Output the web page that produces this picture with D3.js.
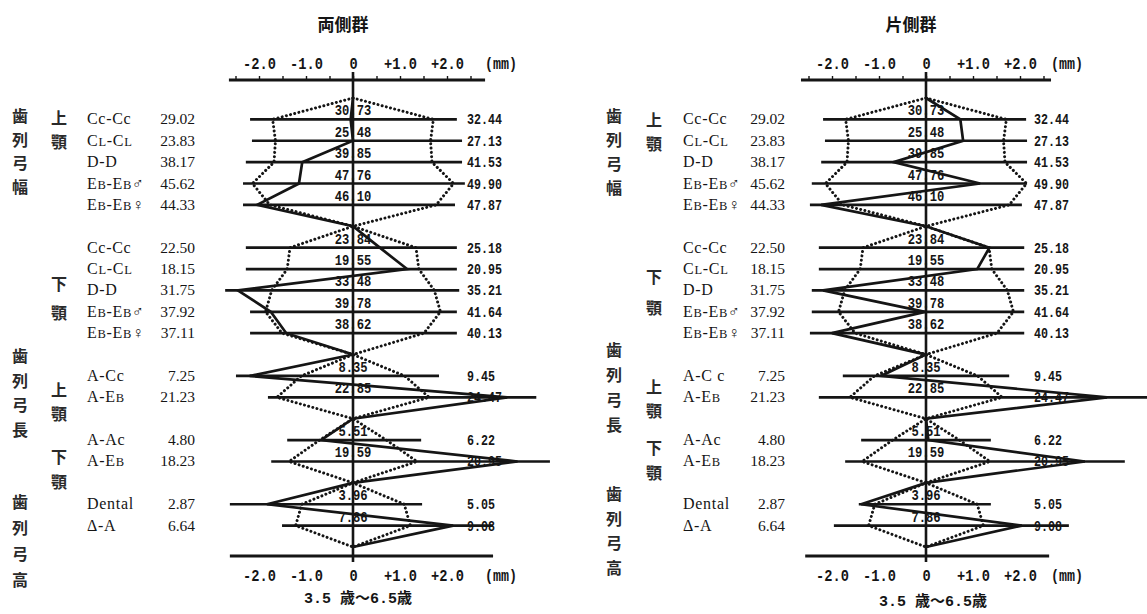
<!DOCTYPE html>
<html>
<head>
<meta charset="utf-8">
<script src="https://cdn.jsdelivr.net/npm/d3@7"></script>
<style>
  body { margin: 0; background: #fff; }
</style>
</head>
<body>
<svg id="chart" width="1147" height="614"></svg>
<script>
// row labels, {x} = smaller letter
const rowLabels = ["Cc-Cc", "C{L}-C{L}", "D-D", "E{B}-E{B}♂", "E{B}-E{B}♀",
                   "Cc-Cc", "C{L}-C{L}", "D-D", "E{B}-E{B}♂", "E{B}-E{B}♀",
                   "A-Cc", "A-E{B}", "A-Ac", "A-E{B}", "Dental", "Δ-A"];
const rowLabelsRight = rowLabels.map((d, i) => i === 10 ? "A-C c" : d);
const groupSizes = [5, 5, 2, 2, 2];

// standard values (mm): mean - SD, mean, mean + SD
const lowValues  = [29.02, 23.83, 38.17, 45.62, 44.33, 22.50, 18.15, 31.75, 37.92, 37.11, 7.25, 21.23, 4.80, 18.23, 2.87, 6.64];
const meanValues = [30.73, 25.48, 39.85, 47.76, 46.10, 23.84, 19.55, 33.48, 39.78, 38.62, 8.35, 22.85, 5.51, 19.59, 3.96, 7.86];
const highValues = [32.44, 27.13, 41.53, 49.90, 47.87, 25.18, 20.95, 35.21, 41.64, 40.13, 9.45, 24.47, 6.22, 20.95, 5.05, 9.08];

// group deviation from standard (mm)
const devBilateral  = [-0.05, 0.0, -1.08, -1.15, -2.04, 0.57, 1.15, -2.45, -1.75, -1.42, -2.2, 3.28, -0.68, 3.5, -1.83, 2.13];
const devUnilateral = [0.73, 0.79, -0.69, 1.15, -2.23, 1.35, 1.09, -2.19, -0.02, -2.0, -0.96, 3.85, 0.05, 3.38, -1.38, 2.04];

// extent of each row's reference line (mm)
const barLoBilateral  = [-2.19, -2.15, -2.28, -2.34, -2.34, -2.28, -2.28, -2.72, -2.19, -2.19, -2.49, -1.81, -1.4, -1.74, -2.62, -1.51];
const barHiBilateral  = [2.21, 2.32, 2.32, 2.38, 2.17, 2.21, 2.21, 2.26, 2.21, 2.21, 1.83, 3.9, 1.45, 4.19, 1.47, 2.98];
const barLoUnilateral = [-2.19, -2.15, -2.23, -2.43, -2.47, -2.28, -2.28, -2.43, -2.43, -2.47, -1.77, -2.28, -1.38, -1.72, -1.43, -1.96];
const barHiUnilateral = [2.13, 2.15, 2.15, 2.15, 2.04, 2.09, 2.09, 2.09, 2.09, 2.09, 1.77, 4.74, 1.38, 4.23, 1.38, 3.04];

const tickValues = [-2, -1, 0, 1, 2];
const tickLabels = ["-2.0", "-1.0", "0", "+1.0", "+2.0"];
const titles = ["両側群", "片側群"];
const subtitles = ["3.5 歳～6.5歳", "3.5  歳～6.5歳"];

const sideLeft = [
  { t: "歯列弓幅", col: 0, y0: 115, step: 23.5 },
  { t: "上顎", col: 1, y0: 117, step: 24 },
  { t: "下顎", col: 1, y0: 283, step: 29 },
  { t: "歯列弓長", col: 0, y0: 355, step: 24.5 },
  { t: "上顎", col: 1, y0: 389, step: 24 },
  { t: "下顎", col: 1, y0: 456, step: 25 },
  { t: "歯列弓高", col: 0, y0: 501, step: 26 }
];
const sideRight = [
  { t: "歯列弓幅", col: 0, y0: 115, step: 24 },
  { t: "上顎", col: 1, y0: 119, step: 24 },
  { t: "下顎", col: 1, y0: 276, step: 31 },
  { t: "歯列弓長", col: 0, y0: 349, step: 25 },
  { t: "上顎", col: 1, y0: 386, step: 24 },
  { t: "下顎", col: 1, y0: 447, step: 25 },
  { t: "歯列弓高", col: 0, y0: 493, step: 24.5 }
];

const INK = "#151515";
const PX_PER_MM = 47;
const monoFont = "'Liberation Mono', 'DejaVu Sans Mono', monospace";
const serifFont = "'Liberation Serif', 'DejaVu Serif', serif";
const cjkFont = "'Noto Sans CJK JP', 'Noto Sans CJK SC', sans-serif";

const panels = [
  { title: titles[0], sub: subtitles[0], labels: rowLabels, dev: devBilateral, lo: barLoBilateral, hi: barHiBilateral,
    cx: 353, titleX: 343, labelX: 87, valX: 195, col0: 20, col1: 59, rvX: 467,
    topAxis: [-2.64, 2.81], bottomAxis: [-2.62, 2.98], mmDx: 148, subX: 358, subY: 603, side: sideLeft },
  { title: titles[1], sub: subtitles[1], labels: rowLabelsRight, dev: devUnilateral, lo: barLoUnilateral, hi: barHiUnilateral,
    cx: 926, titleX: 911, labelX: 683, valX: 785, col0: 614, col1: 654, rvX: 1034,
    topAxis: [-2.66, 2.66], bottomAxis: [-2.57, 2.62], mmDx: 141, subX: 933, subY: 606, side: sideRight }
];

// slots: junction, rows of group, junction, ...
const slots = [{ j: true }];
let r = 0;
groupSizes.forEach(n => {
  for (let k = 0; k < n; k++) slots.push({ j: false, i: r++ });
  slots.push({ j: true });
});

const y = d3.scalePoint().domain(d3.range(slots.length)).range([98, 547]);

const svg = d3.select("#chart");
svg.append("rect").attr("width", 1147).attr("height", 614).attr("fill", "#fff");

function monoText(g, txt, x, yy, size, charW, anchor) {
  return g.append("text")
    .attr("x", x).attr("y", yy)
    .attr("font-family", monoFont).attr("font-weight", "bold")
    .attr("font-size", size).attr("fill", INK)
    .attr("text-anchor", anchor || "start")
    .attr("textLength", txt.length * charW)
    .attr("lengthAdjust", "spacingAndGlyphs")
    .text(txt);
}

panels.forEach(p => {
  const x = d3.scaleLinear().domain([-1, 1]).range([p.cx - PX_PER_MM, p.cx + PX_PER_MM]);
  const g = svg.append("g");

  // title
  g.append("text").attr("x", p.titleX).attr("y", 31)
    .attr("text-anchor", "middle").attr("font-family", cjkFont).attr("font-weight", "bold")
    .attr("font-size", 17).attr("fill", INK).text(p.title);

  // top axis line + minor ticks
  g.append("line").attr("x1", x(p.topAxis[0])).attr("x2", x(p.topAxis[1]))
    .attr("y1", 80).attr("y2", 80).attr("stroke", INK).attr("stroke-width", 2.8);
  const minor = g.append("g").attr("transform", "translate(0,79)")
    .call(d3.axisTop(x).tickValues(d3.range(-2.5, 2.51, 0.5)).tickSize(3).tickFormat(""));
  minor.select(".domain").remove();
  minor.selectAll("line").attr("stroke", INK).attr("stroke-width", 1.4);

  // tick labels top & bottom
  [69, 581].forEach(ty => {
    const ax = g.append("g").attr("transform", `translate(0,${ty})`)
      .call(d3.axisTop(x).tickValues(tickValues).tickSize(0).tickPadding(0)
        .tickFormat((d, i) => tickLabels[i]));
    ax.select(".domain").remove();
    ax.selectAll("text")
      .attr("font-family", monoFont).attr("font-weight", "bold")
      .attr("font-size", 16).attr("fill", INK)
      .attr("textLength", function () { return this.textContent.length * 8.2; })
      .attr("lengthAdjust", "spacingAndGlyphs");
    monoText(g, "(mm)", p.cx + p.mmDx, ty, 16, 8.0, "middle");
  });

  // bottom line
  g.append("line").attr("x1", x(p.bottomAxis[0])).attr("x2", x(p.bottomAxis[1]))
    .attr("y1", 556).attr("y2", 556).attr("stroke", INK).attr("stroke-width", 2.8);

  // center line
  g.append("line").attr("x1", x(0)).attr("x2", x(0)).attr("y1", 72).attr("y2", 562)
    .attr("stroke", INK).attr("stroke-width", 2.6);

  // row reference bars
  slots.forEach((s, idx) => {
    if (s.j) return;
    g.append("line")
      .attr("x1", x(p.lo[s.i])).attr("x2", x(p.hi[s.i]))
      .attr("y1", y(idx)).attr("y2", y(idx))
      .attr("stroke", INK).attr("stroke-width", 2.7);
  });

  // standard ±SD polygon (dotted)
  const sd = highValues.map((h, i) => h - meanValues[i]);
  [-1, 1].forEach(sign => {
    const pts = slots.map((s, idx) => [x(s.j ? 0 : sign * sd[s.i]), y(idx)]);
    g.append("path").attr("d", d3.line()(pts))
      .attr("fill", "none").attr("stroke", INK).attr("stroke-width", 3)
      .attr("stroke-linecap", "round").attr("stroke-dasharray", "0.01 4.3");
  });

  // group deviation (solid)
  const pts = slots.map((s, idx) => [x(s.j ? 0 : p.dev[s.i]), y(idx)]);
  g.append("path").attr("d", d3.line()(pts))
    .attr("fill", "none").attr("stroke", INK).attr("stroke-width", 2.7)
    .attr("stroke-linejoin", "miter");

  // texts per row
  slots.forEach((s, idx) => {
    if (s.j) return;
    const yy = y(idx);
    const t = g.append("text").attr("x", p.labelX).attr("y", yy + 5)
      .attr("font-family", serifFont).attr("font-size", 16).attr("fill", INK)
      .attr("letter-spacing", 0.7);
    p.labels[s.i].split(/(\{[^}]*\})/).filter(d => d).forEach(part => {
      if (part[0] === "{") t.append("tspan").attr("font-size", 12.5).text(part.slice(1, -1));
      else t.append("tspan").text(part);
    });
    g.append("text").attr("x", p.valX).attr("y", yy + 5)
      .attr("text-anchor", "end").attr("font-family", serifFont).attr("font-size", 15.5)
      .attr("fill", INK).text(lowValues[s.i].toFixed(2));
    monoText(g, highValues[s.i].toFixed(2), p.rvX, yy + 5, 15, 7, "start");
    monoText(g, meanValues[s.i].toFixed(2), x(0), yy - 4, 14, 7.3, "middle");
  });

  // side vertical captions
  p.side.forEach(b => {
    Array.from(b.t).forEach((ch, k) => {
      g.append("text").attr("x", b.col === 0 ? p.col0 : p.col1).attr("y", b.y0 + k * b.step)
        .attr("text-anchor", "middle").attr("dominant-baseline", "central")
        .attr("font-family", cjkFont).attr("font-weight", "bold")
        .attr("font-size", 16).attr("fill", "#2a2a2a").text(ch);
    });
  });

  // subtitle
  g.append("text").attr("x", p.subX).attr("y", p.subY).attr("text-anchor", "middle")
    .attr("font-family", monoFont + ", " + cjkFont).attr("font-weight", "bold")
    .attr("font-size", 15).attr("fill", INK).text(p.sub);
});
</script>
</body>
</html>
